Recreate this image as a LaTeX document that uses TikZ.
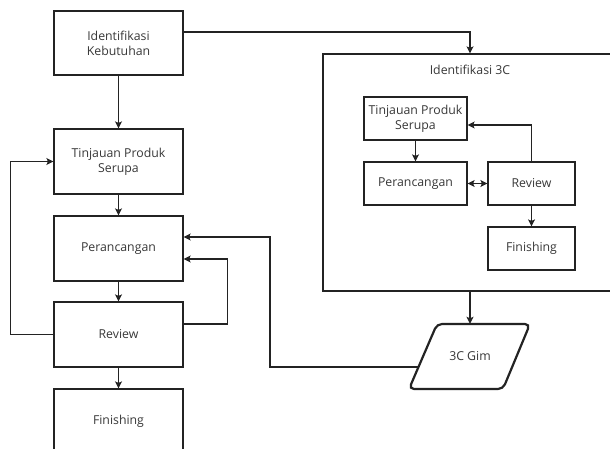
\documentclass[tikz,border=0pt]{standalone}
\usepackage{fontspec}
\setmainfont{Open Sans}
\usetikzlibrary{arrows.meta,calc}
\definecolor{ln}{RGB}{35,35,35}
\definecolor{tx}{RGB}{55,55,55}
\tikzset{
  lbl/.style={text=tx,font=\fontsize{12.3}{15}\selectfont,align=center},
  box/.style={draw=ln,line width=1.2pt,minimum width=#1,inner sep=0pt,lbl},
  box/.default=129pt,
  myt/.tip={Stealth[length=7pt,width=7pt,inset=1.5pt]},
  conn/.style={draw=ln,line width=1.2pt,-{myt}},
}
\begin{document}
\begin{tikzpicture}[x=1pt,y=-1pt]
\useasboundingbox (0,0) rectangle (610,449);
\clip (0,0) rectangle (610,449);
% left column
\node[box,minimum height=64pt] (idk) at (118.5,43) {Identifikasi\\Kebutuhan};
\node[box,minimum height=65pt] (tps) at (118.5,161.5) {Tinjauan Produk\\Serupa};
\node[box,minimum height=65pt] (per) at (118.5,248.5) {Perancangan};
\node[box,minimum height=65pt] (rev) at (118.5,334.5) {Review};
\node[box,minimum height=65pt] (fin) at (118.5,421.5) {Finishing};
% container
\node[box,minimum width=294pt,minimum height=237pt] (c3) at (470,172.5) {};
\node[lbl] (c3t) at (470,70) {Identifikasi 3C};
% inner
\node[box=103pt,minimum height=43pt] (itps) at (415.5,118.5) {Tinjauan Produk\\Serupa};
\node[box=103pt,minimum height=43pt] (iper) at (415.5,183.5) {Perancangan};
\node[box=87pt,minimum height=43pt] (irev) at (531.5,183.5) {Review};
\node[box=87pt,minimum height=43pt] (ifin) at (531.5,248.5) {Finishing};
% gim parallelogram
\draw[ln,line width=2.2pt,rounded corners=5pt] (437,324) -- (530,324) -- (503,389) -- (409,389) -- cycle;
\node[lbl,minimum width=60pt,minimum height=65pt,inner sep=0pt] (gim) at (470,356.5) {3C Gim};
\coordinate (gimin) at (418,367);
% connectors
\draw[conn] (idk) -- (tps);
\draw[conn] (tps) -- (per);
\draw[conn] (per) -- (rev);
\draw[conn] (rev) -- (fin);
\draw[conn] (rev.west) -- ++(-43,0) |- (tps.west);
\draw[conn] ([yshift=10.5pt]rev.east) -- ++(44,0) |- ([yshift=-10.5pt]per.east);
\draw[conn] (gimin) -- (270,367) |- ([yshift=11.5pt]per.east);
\draw[conn] ([yshift=11pt]idk.east) -| (c3.north);
\draw[conn] (c3.south) -- (gim.north);
\draw[conn] (itps) -- (iper);
\draw[draw=ln,line width=1.2pt,{myt}-{myt}] (iper) -- (irev);
\draw[conn] (irev.north) |- ([yshift=-6.5pt]itps.east);
\draw[conn] (irev) -- (ifin);
\end{tikzpicture}
\end{document}
